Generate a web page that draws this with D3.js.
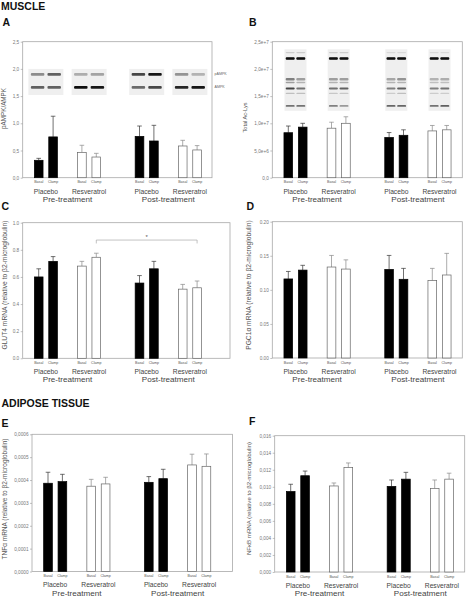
<!DOCTYPE html>
<html><head><meta charset="utf-8">
<script src="https://cdn.jsdelivr.net/npm/d3@7"></script>
<style>
body{margin:0;background:#fff}
svg{display:block}
text{font-family:"Liberation Sans",Arial,sans-serif}
</style>
</head><body>
<svg id="chart" width="466" height="598"></svg>
<script>
// ---------- categories ----------
const periods = ["Pre-treatment", "Post-treatment"];
const treatments = ["Placebo", "Resveratrol"];
const conditions = ["Basal", "Clamp"];

// ---------- series (order: Pre Placebo Basal/Clamp, Pre Resv Basal/Clamp, Post Placebo Basal/Clamp, Post Resv Basal/Clamp) ----------
const ampkMean = [0.32, 0.75, 0.466, 0.38, 0.76, 0.675, 0.583, 0.51];
const ampkSem  = [0.036, 0.38, 0.13, 0.068, 0.19, 0.288, 0.104, 0.08];

const acLysMean = [0.827e7, 0.93e7, 0.91e7, 1.0e7, 0.74e7, 0.78e7, 0.86e7, 0.88e7];
const acLysSem  = [0.123e7, 0.07e7, 0.11e7, 0.12e7, 0.09e7, 0.10e7, 0.10e7, 0.08e7];

const glut4Mean = [0.60, 0.715, 0.68, 0.745, 0.555, 0.66, 0.51, 0.52];
const glut4Sem  = [0.06, 0.035, 0.035, 0.03, 0.055, 0.055, 0.035, 0.05];

const pgcMean = [0.116, 0.129, 0.1335, 0.1305, 0.130, 0.1155, 0.1135, 0.1218];
const pgcSem  = [0.011, 0.007, 0.017, 0.0135, 0.0205, 0.016, 0.018, 0.0317];

const tnfMean = [0.000386, 0.000393, 0.000373, 0.000383, 0.000390, 0.000406, 0.000466, 0.000460];
const tnfSem  = [0.000048, 0.000032, 0.000030, 0.000029, 0.000025, 0.000041, 0.000047, 0.000054];

const nfkbMean = [0.00945, 0.0113, 0.0101, 0.01225, 0.01005, 0.0109, 0.0098, 0.0109];
const nfkbSem  = [0.00085, 0.00055, 0.00035, 0.00055, 0.00075, 0.0008, 0.001, 0.0007];

// ---------- tick labels ----------
const ampkTicks = [0, 0.5, 1.0, 1.5, 2.0, 2.5];
const acLysTicks = [0, 5e6, 1e7, 1.5e7, 2e7, 2.5e7];
const acLysTickLabels = ["0,0", "5,0e+6", "1,0e+7", "1,5e+7", "2,0e+7", "2,5e+7"];
const glut4Ticks = [0, 0.2, 0.4, 0.6, 0.8, 1.0];
const pgcTicks = [0, 0.05, 0.10, 0.15, 0.20];
const tnfTicks = [0, 0.0001, 0.0002, 0.0003, 0.0004, 0.0005, 0.0006];
const nfkbTicks = [0, 0.002, 0.004, 0.006, 0.008, 0.010, 0.012, 0.014, 0.016];

// significance (panel C): bar index 3 (Pre Resv Clamp) vs bar index 7 (Post Resv Clamp)
const glut4Sig = {from: 3, to: 7, level: 0.872, label: "*"};

// western blot band darkness (0 = white, 1 = black), per group, per band row, per lane
const ampkBlot = [
  [[0.45, 0.62], [0.62, 0.62]],
  [[0.32, 0.36], [0.95, 0.9]],
  [[0.72, 0.9], [0.58, 0.72]],
  [[0.42, 0.3], [0.85, 0.92]]
];
const ampkBlotNames = ["pAMPK", "AMPK"];
const acLysBlot = [
  [[0.2,0.2],[0.97,0.97],[0.5,0.38],[0.38,0.3],[0.72,0.55],[0.25,0.25],[0.55,0.55]],
  [[0.2,0.2],[0.97,0.97],[0.38,0.38],[0.3,0.3],[0.55,0.62],[0.22,0.22],[0.5,0.4]],
  [[0.15,0.15],[0.97,0.97],[0.35,0.42],[0.3,0.3],[0.5,0.62],[0.2,0.25],[0.6,0.6]],
  [[0.15,0.15],[0.97,0.97],[0.3,0.32],[0.25,0.25],[0.5,0.55],[0.2,0.2],[0.55,0.62]]
];

// ---------- drawing ----------
const svg = d3.select("#chart");
const defs = svg.append("defs");
defs.append("filter").attr("id", "blur").attr("x", "-20%").attr("y", "-50%").attr("width", "140%").attr("height", "200%")
  .append("feGaussianBlur").attr("stdDeviation", 0.55);

function slotOf(i) {
  const p = Math.floor(i / 4), t = Math.floor(i / 2) % 2, c = i % 2;
  return 1 + p * 7 + t * 3 + c;
}

function drawPanel(cfg) {
  const g = svg.append("g");
  const y = d3.scaleLinear().domain(cfg.domain).range([cfg.bottom, cfg.top]);
  const x = d3.scaleLinear().domain([0, 1]).range([cfg.left + 1.6, cfg.left + 16]);
  const barW = 8.7;

  if (cfg.blot) cfg.blot(g, x, y);

  g.append("rect").attr("x", cfg.left).attr("y", cfg.top)
    .attr("width", cfg.right - cfg.left).attr("height", cfg.bottom - cfg.top)
    .attr("fill", "none").attr("stroke", "#a8a8a8").attr("stroke-width", 0.8);

  const ax = d3.axisLeft(y).tickValues(cfg.ticks).tickSize(2).tickPadding(1.5)
    .tickFormat(cfg.fmt);
  const axg = g.append("g").attr("transform", `translate(${cfg.left},0)`).call(ax);
  axg.select(".domain").remove();
  axg.selectAll(".tick line").attr("stroke", "#999").attr("stroke-width", 0.6);
  axg.selectAll(".tick text").attr("fill", "#777").attr("font-size", cfg.tickFont || 4.7)
    .attr("font-family", '"Liberation Sans",Arial,sans-serif');

  g.append("text").attr("transform", `translate(${cfg.titleX},${cfg.titleY}) rotate(-90)`)
    .attr("text-anchor", "middle").attr("dominant-baseline", "central")
    .attr("font-size", cfg.titleFont).attr("fill", "#555").text(cfg.title);

  const data = cfg.mean.map((m, i) => ({m, s: cfg.sem[i], k: slotOf(i), i,
    resv: Math.floor(i / 2) % 2 === 1}));

  const eb = g.selectAll(".eb").data(data).join("g");
  eb.append("line").attr("x1", d => x(d.k)).attr("x2", d => x(d.k))
    .attr("y1", d => y(d.m)).attr("y2", d => y(d.m + d.s))
    .attr("stroke", d => d.resv ? "#888" : "#333").attr("stroke-width", 0.7);
  eb.append("line").attr("x1", d => x(d.k) - 2.3).attr("x2", d => x(d.k) + 2.3)
    .attr("y1", d => y(d.m + d.s)).attr("y2", d => y(d.m + d.s))
    .attr("stroke", d => d.resv ? "#888" : "#333").attr("stroke-width", 0.7);

  g.selectAll(".bar").data(data).join("rect")
    .attr("x", d => x(d.k) - barW / 2).attr("width", barW)
    .attr("y", d => y(d.m)).attr("height", d => y(0) - y(d.m))
    .attr("fill", d => d.resv ? "#fff" : "#000")
    .attr("stroke", d => d.resv ? "#666" : "#000").attr("stroke-width", 0.7);

  g.selectAll(".cond").data(data).join("text")
    .attr("x", d => x(d.k)).attr("y", cfg.bottom + 4.6)
    .attr("text-anchor", "middle").attr("dominant-baseline", "central")
    .attr("font-size", 3.6).attr("fill", "#555")
    .text(d => conditions[d.i % 2]);
  const tg = [0, 1, 2, 3].map(j => ({j, k: (slotOf(j * 2) + slotOf(j * 2 + 1)) / 2}));
  g.selectAll(".treat").data(tg).join("text")
    .attr("x", d => x(d.k)).attr("y", cfg.bottom + 13.4)
    .attr("text-anchor", "middle").attr("dominant-baseline", "central")
    .attr("font-size", 6.7).attr("fill", "#444")
    .text(d => treatments[d.j % 2]);
  const pg = [0, 1].map(p => ({p, k: (slotOf(p * 4) + slotOf(p * 4 + 3)) / 2}));
  g.selectAll(".period").data(pg).join("text")
    .attr("x", d => x(d.k)).attr("y", cfg.bottom + 21.6)
    .attr("text-anchor", "middle").attr("dominant-baseline", "central")
    .attr("font-size", 8.1).attr("fill", "#444")
    .text(d => periods[d.p]);

  if (cfg.sig) {
    const s = cfg.sig;
    const x1 = x(slotOf(s.from)), x2 = x(slotOf(s.to));
    const yy = y(s.level), yt = y(s.level - 0.025);
    g.append("path").attr("d", `M${x1},${yt}V${yy}H${x2}V${yt}`)
      .attr("fill", "none").attr("stroke", "#999").attr("stroke-width", 0.6);
    g.append("text").attr("x", (x1 + x2) / 2).attr("y", yy - 1.2)
      .attr("text-anchor", "middle").attr("font-size", 6).attr("fill", "#555").text(s.label);
  }
  return {x, y};
}

function grayOf(d) { const v = Math.round(255 * (1 - d)); return `rgb(${v},${v},${v})`; }

function blotDrawer(intens, opt) {
  return function(g, x, y) {
    intens.forEach((rows, gi) => {
      const k1 = slotOf(gi * 2), k2 = slotOf(gi * 2 + 1);
      const cx = (x(k1) + x(k2)) / 2;
      const bg = g.append("g");
      bg.append("rect").attr("x", cx - opt.width / 2).attr("width", opt.width)
        .attr("y", y(opt.topV)).attr("height", y(opt.bottomV) - y(opt.topV))
        .attr("fill", "#efefef");
      const bands = bg.append("g").attr("filter", "url(#blur)");
      rows.forEach((lanes, ri) => {
        lanes.forEach((dk, li) => {
          const lx = cx + (li === 0 ? -opt.laneOff : opt.laneOff);
          bands.append("rect").attr("x", lx - opt.laneW / 2).attr("width", opt.laneW)
            .attr("y", y(opt.rows[ri].v) - opt.rows[ri].h / 2).attr("height", opt.rows[ri].h)
            .attr("rx", 1).attr("fill", grayOf(dk));
        });
      });
    });
  };
}

const fmtComma = (dec) => v => d3.format(`.${dec}f`)(v).replace(".", ",");

// Panel A
const pA = {
  domain: [0, 2.5], top: 41.7, bottom: 177.7, left: 22.7, right: 212,
  ticks: ampkTicks, fmt: fmtComma(1),
  title: "pAMPK/AMPK", titleX: 3.8, titleY: 108.5, titleFont: 6.3,
  mean: ampkMean, sem: ampkSem,
  blot: blotDrawer(ampkBlot, {width: 35, laneOff: 8.3, laneW: 13.5, topV: 2.0, bottomV: 1.52,
    rows: [{v: 1.9, h: 2.6}, {v: 1.66, h: 2.8}]})
};
const rA = drawPanel(pA);
ampkBlotNames.forEach((n, i) => {
  svg.append("text").attr("x", pA.right + 2.5).attr("y", rA.y([1.9, 1.66][i]))
    .attr("dominant-baseline", "central").attr("font-size", 3.6).attr("fill", "#666").text(n);
});

// Panel B
drawPanel({
  domain: [0, 2.5e7], top: 41.7, bottom: 177.7, left: 272.3, right: 462.3,
  ticks: acLysTicks, fmt: (v, i) => acLysTickLabels[i],
  title: "Total Ac-Lys", titleX: 245, titleY: 117.5, titleFont: 5.6,
  mean: acLysMean, sem: acLysSem,
  blot: blotDrawer(acLysBlot, {width: 22, laneOff: 5.3, laneW: 9, topV: 2.36e7, bottomV: 1.23e7,
    rows: [{v: 2.30e7, h: 1.2}, {v: 2.19e7, h: 2.6}, {v: 1.81e7, h: 2.6}, {v: 1.75e7, h: 1.5},
           {v: 1.64e7, h: 1.8}, {v: 1.55e7, h: 1.3}, {v: 1.32e7, h: 1.9}]})
});

// Panel C
drawPanel({
  domain: [0, 1.0], top: 222.7, bottom: 358.3, left: 22.7, right: 230,
  ticks: glut4Ticks, fmt: d3.format(".1f"),
  title: "GLUT4 mRNA (relative to β2-microglobulin)", titleX: 4.4, titleY: 285, titleFont: 6.7,
  mean: glut4Mean, sem: glut4Sem, sig: glut4Sig
});

// Panel D
drawPanel({
  domain: [0, 0.20], top: 221.7, bottom: 358, left: 272.3, right: 462.3,
  ticks: pgcTicks, fmt: d3.format(".2f"),
  title: "PGC1α mRNA (relative to β2-microglobulin)", titleX: 248.5, titleY: 285, titleFont: 6.7,
  mean: pgcMean, sem: pgcSem
});

// Panel E
drawPanel({
  domain: [0, 0.0006], top: 434.3, bottom: 571.5, left: 32, right: 232.5,
  ticks: tnfTicks, fmt: fmtComma(4),
  title: "TNFα mRNA (relative to β2-microglobulin)", titleX: 4, titleY: 499, titleFont: 6.5,
  mean: tnfMean, sem: tnfSem
});

// Panel F
drawPanel({
  domain: [0, 0.016], top: 435.7, bottom: 572, left: 274.7, right: 464.7,
  ticks: nfkbTicks, fmt: fmtComma(3),
  title: "NFκB mRNA (relative to β2-microglobulin)", titleX: 248.7, titleY: 498.5, titleFont: 6.1,
  mean: nfkbMean, sem: nfkbSem
});

// headings
const heads = [
  {t: "MUSCLE", x: 1, y: 9.5}, {t: "A", x: 2.5, y: 26}, {t: "B", x: 249, y: 26},
  {t: "C", x: 1.5, y: 209.5}, {t: "D", x: 246.5, y: 209.5},
  {t: "ADIPOSE TISSUE", x: 1.5, y: 406.5}, {t: "E", x: 1.5, y: 426.5}, {t: "F", x: 249, y: 424.5}
];
svg.selectAll(".head").data(heads).join("text")
  .attr("x", d => d.x).attr("y", d => d.y).attr("font-size", 10.5).attr("font-weight", "bold")
  .attr("fill", "#111").text(d => d.t);
</script>
</body></html>
